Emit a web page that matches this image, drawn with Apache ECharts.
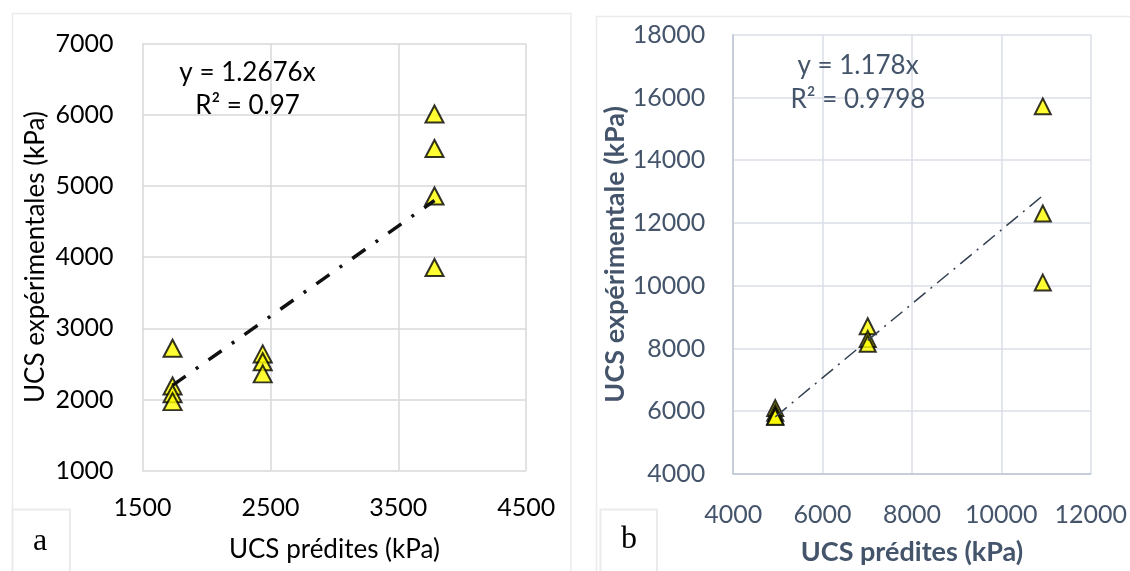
<!DOCTYPE html>
<html>
<head>
<meta charset="utf-8">
<script src="https://cdn.jsdelivr.net/npm/echarts@6/dist/echarts.min.js"></script>
<style>
  html, body { margin: 0; padding: 0; background: #ffffff; }
  #chart { width: 1130px; height: 571px; }
</style>
</head>
<body>
<div id="chart"></div>
<script>
// Panel a: predicted vs measured UCS (kPa)
const aPredicted = [1735, 1735, 1735, 1735, 2440, 2440, 2440, 3783, 3783, 3783, 3783];
const aMeasured  = [2720, 2190, 2080, 1970, 2640, 2530, 2360, 6010, 5525, 4858, 3854];
const aSlope = 1.2676;
const aR2 = '0.97';

// Panel b: predicted vs measured UCS (kPa)
const bPredicted = [4941, 4941, 4941, 4941, 7010, 7010, 7010, 10927, 10927, 10927];
const bMeasured  = [6100, 5950, 5850, 5820, 8710, 8300, 8150, 15716, 12303, 10100];
const bSlope = 1.178;
const bR2 = '0.9798';

// Axis ranges / tick steps
const aXAxis = { min: 1500, max: 4500, step: 1000 };
const aYAxis = { min: 1000, max: 7000, step: 1000 };
const bXAxis = { min: 4000, max: 12000, step: 2000 };
const bYAxis = { min: 4000, max: 18000, step: 2000 };

const xTitle = 'UCS prédites (kPa)';
const aYTitle = 'UCS expérimentales (kPa)';
const bYTitle = 'UCS expérimentale (kPa)';

function pairs(xs, ys) { return xs.map((x, i) => [x, ys[i]]); }
// Linear trend through the origin, spanning the predicted range
function trend(xs, slope) {
  const lo = Math.min(...xs), hi = Math.max(...xs);
  return [[lo, lo * slope], [hi, hi * slope]];
}
const plain = v => String(v);

const FONT = 'Lato, "Noto Sans", sans-serif';
const SLATE = '#44546A';

const chart = echarts.init(document.getElementById('chart'), null, { renderer: 'canvas' });

chart.setOption({
  backgroundColor: '#ffffff',
  animation: false,
  grid: [
    { left: 142.5, top: 43.5, width: 383.7, height: 427.2 },
    { left: 733.2, top: 34.7, width: 358.9, height: 443 }
  ],
  xAxis: [
    {
      gridIndex: 0, type: 'value', min: aXAxis.min, max: aXAxis.max, interval: aXAxis.step,
      axisLine: { show: false }, axisTick: { show: false },
      splitLine: { lineStyle: { color: '#D9D9D9', width: 1.5 } },
      axisLabel: { color: '#000', fontFamily: FONT, fontSize: 25, margin: 25, formatter: plain },
      name: xTitle, nameLocation: 'middle', nameGap: 66,
      nameTextStyle: { color: '#000', fontFamily: FONT, fontSize: 26 }
    },
    {
      gridIndex: 1, type: 'value', min: bXAxis.min, max: bXAxis.max, interval: bXAxis.step,
      axisLine: { show: true, lineStyle: { color: '#BCC6D4', width: 1.5 } }, axisTick: { show: false },
      splitLine: { lineStyle: { color: '#DADFE7', width: 1.5 } },
      axisLabel: { color: SLATE, fontFamily: FONT, fontSize: 25, margin: 28, formatter: plain },
      name: xTitle, nameLocation: 'middle', nameGap: 65,
      nameTextStyle: { color: SLATE, fontFamily: FONT, fontSize: 27, fontWeight: 'bold' }
    }
  ],
  yAxis: [
    {
      gridIndex: 0, type: 'value', min: aYAxis.min, max: aYAxis.max, interval: aYAxis.step,
      axisLine: { show: false }, axisTick: { show: false },
      splitLine: { lineStyle: { color: '#D9D9D9', width: 1.5 } },
      axisLabel: { color: '#000', fontFamily: FONT, fontSize: 25, margin: 29, formatter: plain },
      name: aYTitle, nameLocation: 'middle', nameGap: 94,
      nameTextStyle: { color: '#000', fontFamily: FONT, fontSize: 26 }
    },
    {
      gridIndex: 1, type: 'value', min: bYAxis.min, max: bYAxis.max, interval: bYAxis.step,
      axisLine: { show: true, lineStyle: { color: '#BCC6D4', width: 1.5 } }, axisTick: { show: false },
      splitLine: { lineStyle: { color: '#DADFE7', width: 1.5 } },
      axisLabel: { color: SLATE, fontFamily: FONT, fontSize: 25, margin: 28, formatter: plain },
      name: bYTitle, nameLocation: 'middle', nameGap: 101,
      nameTextStyle: { color: SLATE, fontFamily: FONT, fontSize: 27, fontWeight: 'bold' }
    }
  ],
  series: [
    {
      type: 'scatter', xAxisIndex: 0, yAxisIndex: 0, data: pairs(aPredicted, aMeasured),
      symbol: 'triangle', symbolSize: [18, 17],
      itemStyle: { color: '#FFFF00', borderColor: '#000', borderWidth: 2 }, z: 2
    },
    {
      type: 'line', xAxisIndex: 0, yAxisIndex: 0, data: trend(aPredicted, aSlope),
      showSymbol: false, silent: true,
      lineStyle: { color: '#111', width: 3.5, type: [16, 12.5, 3, 12.5] }, z: 3
    },
    {
      type: 'scatter', xAxisIndex: 1, yAxisIndex: 1, data: pairs(bPredicted, bMeasured),
      symbol: 'triangle', symbolSize: [16, 16],
      itemStyle: { color: '#FFFF00', borderColor: '#000', borderWidth: 2 }, z: 2
    },
    {
      type: 'line', xAxisIndex: 1, yAxisIndex: 1, data: trend(bPredicted, bSlope),
      showSymbol: false, silent: true,
      lineStyle: { color: '#333F50', width: 1.5, type: [15, 6.5, 2, 6.5] }, z: 3
    }
  ],
  graphic: [
    // panel frames
    { type: 'rect', z: -10, shape: { x: 12.5, y: 13.5, width: 558.5, height: 620 },
      style: { fill: 'none', stroke: '#EBEBEB', lineWidth: 1.5 } },
    { type: 'rect', z: -10, shape: { x: 596.5, y: 16.5, width: 620, height: 620 },
      style: { fill: 'none', stroke: '#EBEBEB', lineWidth: 1.5 } },
    // panel tags
    { type: 'rect', z: 10, shape: { x: 12.5, y: 509.5, width: 57.5, height: 100 },
      style: { fill: '#fff', stroke: '#EBEBEB', lineWidth: 2 } },
    { type: 'text', z: 11, x: 40, y: 542,
      style: { text: 'a', font: '32px "Liberation Serif", "DejaVu Serif", serif', fill: '#000',
               textAlign: 'center', textVerticalAlign: 'middle' } },
    { type: 'rect', z: 10, shape: { x: 600.5, y: 509.5, width: 56.5, height: 100 },
      style: { fill: '#fff', stroke: '#EBEBEB', lineWidth: 2 } },
    { type: 'text', z: 11, x: 629, y: 540,
      style: { text: 'b', font: '32px "Liberation Serif", "DejaVu Serif", serif', fill: '#000',
               textAlign: 'center', textVerticalAlign: 'middle' } },
    // regression annotations
    { type: 'text', z: 11, x: 247.5, y: 73,
      style: { text: 'y = ' + aSlope + 'x', font: '26px ' + FONT, fill: '#000',
               textAlign: 'center', textVerticalAlign: 'middle' } },
    { type: 'text', z: 11, x: 247.5, y: 106,
      style: { text: 'R² = ' + aR2, font: '26px ' + FONT, fill: '#000',
               textAlign: 'center', textVerticalAlign: 'middle' } },
    { type: 'text', z: 11, x: 858, y: 66,
      style: { text: 'y = ' + bSlope + 'x', font: '26px ' + FONT, fill: SLATE,
               textAlign: 'center', textVerticalAlign: 'middle' } },
    { type: 'text', z: 11, x: 858, y: 100,
      style: { text: 'R² = ' + bR2, font: '26px ' + FONT, fill: SLATE,
               textAlign: 'center', textVerticalAlign: 'middle' } }
  ]
});
</script>
</body>
</html>
